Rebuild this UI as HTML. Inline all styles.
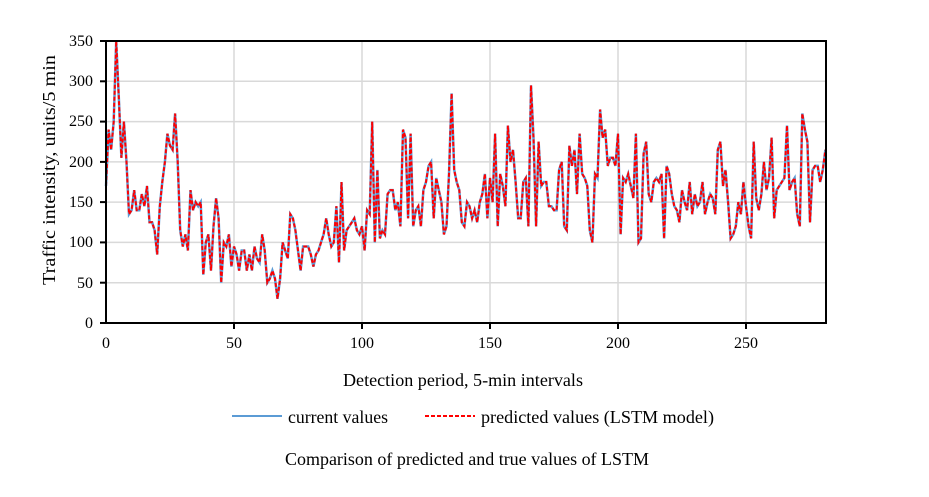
<!DOCTYPE html>
<html><head><meta charset="utf-8"><style>body{margin:0;background:#fff}svg{display:block;font-family:"Liberation Serif",serif}</style></head><body>
<svg id="s" width="929" height="497" viewBox="0 0 929 497" xmlns="http://www.w3.org/2000/svg">
<g stroke="#d9d9d9" stroke-width="1.5">
<line x1="106" y1="282.7" x2="826" y2="282.7"/><line x1="106" y1="242.4" x2="826" y2="242.4"/><line x1="106" y1="202.1" x2="826" y2="202.1"/><line x1="106" y1="161.9" x2="826" y2="161.9"/><line x1="106" y1="121.6" x2="826" y2="121.6"/><line x1="106" y1="81.3" x2="826" y2="81.3"/>
<line x1="234" y1="41" x2="234" y2="323"/><line x1="362" y1="41" x2="362" y2="323"/><line x1="490" y1="41" x2="490" y2="323"/><line x1="618" y1="41" x2="618" y2="323"/><line x1="746" y1="41" x2="746" y2="323"/>
</g>
<polyline id="pb" fill="none" stroke="#5b9bd5" stroke-width="2.5" points=""/>
<polyline id="pr" fill="none" stroke="#ff0000" stroke-width="2" stroke-dasharray="4,2" points=""/>
<rect x="106" y="41" width="720" height="282" fill="none" stroke="#000" stroke-width="2"/>
<g stroke="#000" stroke-width="2">
<line x1="100" y1="41" x2="106" y2="41"/><line x1="100" y1="81.3" x2="106" y2="81.3"/><line x1="100" y1="121.6" x2="106" y2="121.6"/><line x1="100" y1="161.9" x2="106" y2="161.9"/><line x1="100" y1="202.1" x2="106" y2="202.1"/><line x1="100" y1="242.4" x2="106" y2="242.4"/><line x1="100" y1="282.7" x2="106" y2="282.7"/><line x1="100" y1="323" x2="106" y2="323"/>
<line x1="234" y1="323" x2="234" y2="329"/><line x1="362" y1="323" x2="362" y2="329"/><line x1="490" y1="323" x2="490" y2="329"/><line x1="618" y1="323" x2="618" y2="329"/><line x1="746" y1="323" x2="746" y2="329"/>
</g>
<g font-size="16" text-anchor="end" fill="#000">
<text x="93" y="46">350</text><text x="93" y="86">300</text><text x="93" y="126">250</text><text x="93" y="167">200</text><text x="93" y="207">150</text><text x="93" y="247">100</text><text x="93" y="288">50</text><text x="93" y="328">0</text>
</g>
<g font-size="16" text-anchor="middle" fill="#000">
<text x="106" y="348">0</text><text x="234" y="348">50</text><text x="362" y="348">100</text><text x="490" y="348">150</text><text x="618" y="348">200</text><text x="746" y="348">250</text>
</g>
<g font-size="18" fill="#000">
<text x="343" y="386" textLength="240" lengthAdjust="spacingAndGlyphs">Detection period, 5-min intervals</text>
<text x="285" y="465" textLength="364" lengthAdjust="spacingAndGlyphs">Comparison of predicted and true values of LSTM</text>
<text transform="translate(55,285) rotate(-90)" textLength="230" lengthAdjust="spacingAndGlyphs">Traffic intensity, units/5 min</text>
<text x="288" y="423" textLength="100" lengthAdjust="spacingAndGlyphs">current values</text>
<text x="481" y="423" textLength="233" lengthAdjust="spacingAndGlyphs">predicted values (LSTM model)</text>
</g>
<line x1="232" y1="416" x2="282" y2="416" stroke="#5b9bd5" stroke-width="2"/>
<line x1="425" y1="416" x2="475" y2="416" stroke="#ff0000" stroke-width="2" stroke-dasharray="4,2"/>
</svg>
<script>
var v=[170,240,215,250,350,280,205,250,200,135,140,165,140,140,160,145,170,125,125,115,85,145,175,200,235,220,215,260,200,115,95,110,90,165,140,150,145,150,60,100,110,65,120,155,130,50,100,95,110,70,95,85,65,90,90,65,85,65,95,80,75,110,90,50,55,65,55,30,55,100,90,80,135,130,115,90,65,95,95,95,85,70,85,90,100,110,130,110,95,100,145,75,175,90,115,120,125,130,115,110,120,90,140,135,250,100,190,105,115,110,160,165,165,140,150,120,240,230,130,235,120,140,145,120,165,175,195,200,130,180,165,150,110,120,185,285,190,175,165,125,120,150,145,130,140,125,150,160,185,130,180,150,235,120,185,170,145,245,200,215,175,130,130,175,180,120,295,230,120,225,170,175,175,145,145,140,140,190,200,120,115,220,195,215,160,235,185,180,170,115,100,185,180,265,230,240,195,205,205,195,235,110,180,175,185,170,155,235,100,105,210,225,160,150,175,180,175,185,105,195,185,160,145,140,125,165,150,140,175,135,160,145,150,175,135,150,160,155,135,215,225,170,190,150,105,110,120,150,135,175,145,120,105,225,155,140,160,200,165,180,230,130,165,170,175,180,245,165,175,180,135,120,260,240,225,125,190,195,195,175,190,215];
var p=v.map(function(y,i){return (106+2.56*i).toFixed(1)+","+(323-0.8057*y).toFixed(1)}).join(" ");
document.getElementById("pb").setAttribute("points",p);
document.getElementById("pr").setAttribute("points",p);
</script>
</body></html>
